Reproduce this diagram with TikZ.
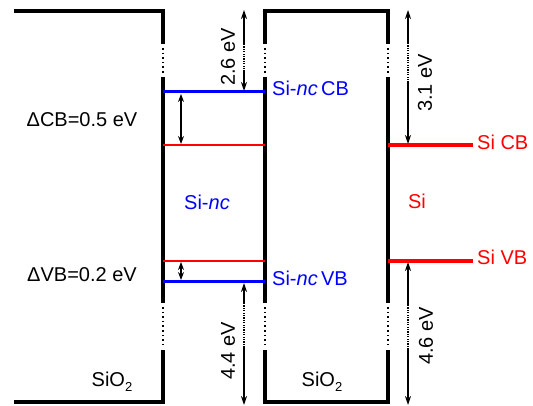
\documentclass[tikz,border=0pt]{standalone}
\usepackage{fontspec}
\setmainfont{Liberation Sans}
\usetikzlibrary{arrows.meta}
\definecolor{nblue}{RGB}{0,0,255}
\definecolor{nred}{RGB}{255,0,0}
\begin{document}
\begin{tikzpicture}[x=1pt,y=-1pt,
  wall/.style={line width=3.2pt,line cap=butt},
  dotwall/.style={line width=2.4pt,dash pattern=on 1.6pt off 3pt},
  dimarr/.style={line width=1.2pt,-{Stealth[length=9pt,width=6pt]}},
  dimdot/.style={line width=1.4pt,dash pattern=on 1.2pt off 1.2pt},
  dbl/.style={line width=1.2pt,{Stealth[length=8pt,width=6pt]}-{Stealth[length=8pt,width=6pt]}},
  lbl/.style={font=\fontsize{20}{24}\selectfont,inner sep=0pt},
  every node/.style={inner sep=0pt}]
\useasboundingbox (0,0) rectangle (533,406);
% left SiO2
\draw[wall] (14,11) -- (163,11) -- (163,44);
\draw[dotwall] (163,48) -- (163,74);
\draw[wall] (163,77) -- (163,303);
\draw[dotwall] (163,307) -- (163,348);
\draw[wall] (163,350) -- (163,402) -- (14,402);
% middle SiO2
\draw[wall] (265,44) -- (265,11) -- (388,11) -- (388,44);
\draw[dotwall] (265,48) -- (265,74);
\draw[dotwall] (388,48) -- (388,74);
\draw[wall] (265,77) -- (265,303);
\draw[wall] (388,77) -- (388,303);
\draw[dotwall] (265,307) -- (265,348);
\draw[dotwall] (388,307) -- (388,348);
\draw[wall] (265,350) -- (265,402) -- (388,402) -- (388,350);
% coordinates
\coordinate (ncCBl) at (163,92);  \coordinate (ncCBr) at (265,92);
\coordinate (ncVBl) at (163,282); \coordinate (ncVBr) at (265,282);
\coordinate (rCBl) at (163,145);  \coordinate (rCBr) at (265,145);
\coordinate (rVBl) at (163,261);  \coordinate (rVBr) at (265,261);
\coordinate (siCBl) at (388,145); \coordinate (siCBr) at (473,145);
\coordinate (siVBl) at (388,261); \coordinate (siVBr) at (473,261);
% levels
\draw[nblue,line width=3pt] (ncCBl) -- (ncCBr);
\draw[nblue,line width=3pt] (ncVBl) -- (ncVBr);
\draw[nred,line width=1.5pt] (rCBl) -- (rCBr);
\draw[nred,line width=1.5pt] (rVBl) -- (rVBr);
\draw[nred,line width=3.2pt] (siCBl) -- (siCBr);
\draw[nred,line width=3.2pt] (siVBl) -- (siVBr);
% delta arrows
\coordinate (dc1) at (181,94); \coordinate (dc2) at (181,144);
\draw[dbl] (dc1) -- (dc2);
\coordinate (dv1) at (181,262); \coordinate (dv2) at (181,280);
\draw[dbl] (dv1) -- (dv2);
% 2.6 eV
\coordinate (a1) at (244,44); \coordinate (a2) at (244,72);
\draw[dimarr] (a1) -- (244,10);
\draw[dimdot] (a1) -- (a2);
\draw[dimarr] (a2) -- (244,91);
% 4.4 eV
\coordinate (b1) at (244,303); \coordinate (b2) at (244,346);
\draw[dimarr] (b1) -- (244,283);
\draw[dimdot] (b1) -- (b2);
\draw[dimarr] (b2) -- (244,405);
% 3.1 eV
\coordinate (c1) at (408,43); \coordinate (c2) at (408,83);
\draw[dimarr] (c1) -- (408,10);
\draw[dimdot] (c1) -- (c2);
\draw[dimarr] (c2) -- (408,144);
% 4.6 eV
\coordinate (d1) at (408,305); \coordinate (d2) at (408,348);
\draw[dimarr] (d1) -- (408,262);
\draw[dimdot] (d1) -- (d2);
\draw[dimarr] (d2) -- (408,405);
% labels
\node[lbl,rotate=90] (l26) at (228,57) {2.6 eV};
\node[lbl,rotate=90] (l44) at (228,351) {4.4 eV};
\node[lbl,rotate=90] (l31) at (425,83) {3.1 eV};
\node[lbl,rotate=90] (l46) at (426,336) {4.6 eV};
\node[lbl,nblue,anchor=west] (tCB) at (272,88) {Si-\textit{nc}\,CB};
\node[lbl,nblue,anchor=west] (tVB) at (272,278) {Si-\textit{nc}\,VB};
\node[lbl,nred,anchor=west] (sCB) at (477,142) {Si CB};
\node[lbl,nred,anchor=west] (sVB) at (477,257) {Si VB};
\node[lbl] (dCB) at (82,120) {ΔCB=0.5 eV};
\node[lbl] (dVB) at (82,275) {ΔVB=0.2 eV};
\node[lbl,nblue] (snc) at (207,202) {Si-\textit{nc}};
\node[lbl,nred] (si) at (417,201) {Si};
\node[lbl] (ox1) at (112,382) {SiO\raisebox{-5pt}{\fontsize{13}{14}\selectfont 2}};
\node[lbl] (ox2) at (322,382) {SiO\raisebox{-5pt}{\fontsize{13}{14}\selectfont 2}};
\end{tikzpicture}
\end{document}
